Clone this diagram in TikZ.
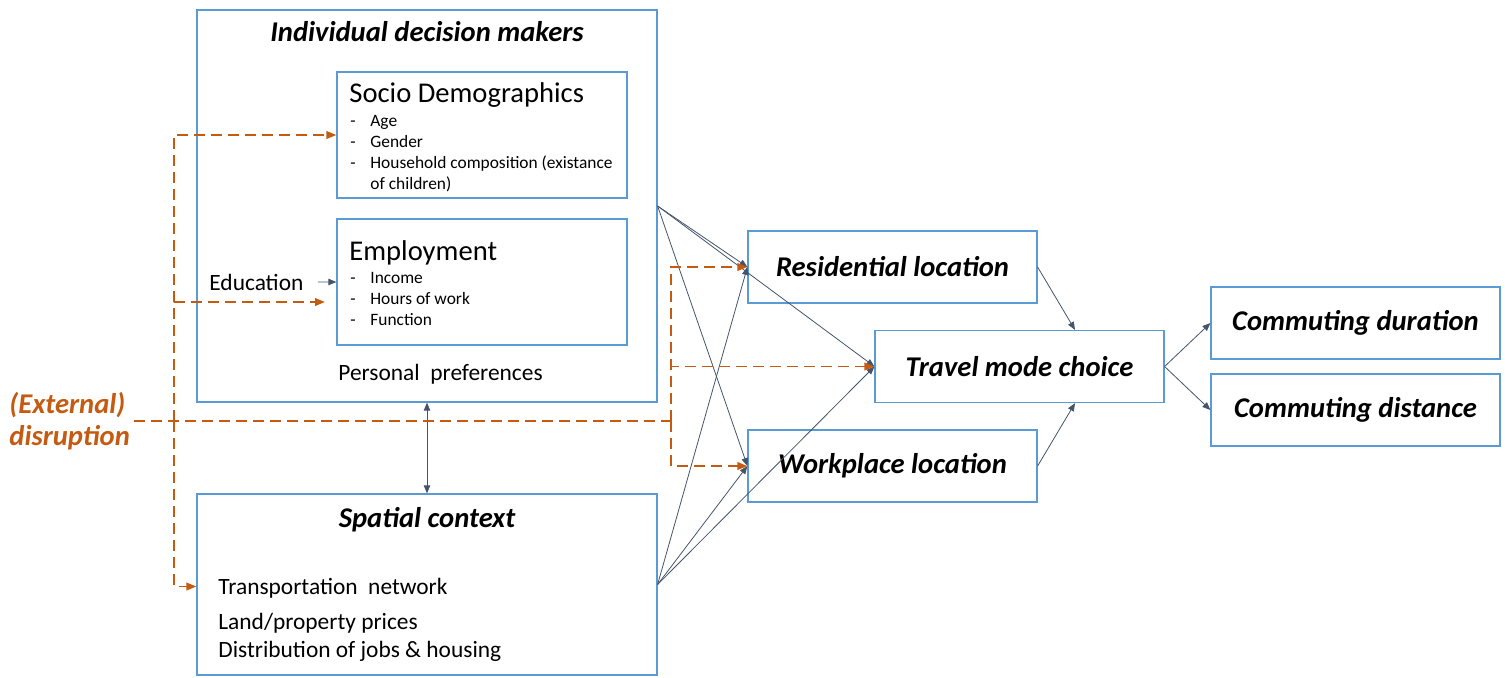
\documentclass[tikz,border=0pt]{standalone}
\usepackage{fontspec}
\setmainfont{Carlito}
\usepackage{tikz}
\usetikzlibrary{arrows.meta, positioning}
\usepackage{xcolor}

\definecolor{boxblue}{RGB}{91,155,213}
\definecolor{extorange}{RGB}{197,90,17}
\definecolor{slate}{RGB}{68,84,106}

\newcommand{\titlefont}{\fontsize{14.3}{16}\selectfont\bfseries\itshape}
\newcommand{\headfont}{\fontsize{14.3}{17}\selectfont}
\newcommand{\itemfont}{\fontsize{8.7}{10.5}\selectfont}
\newcommand{\plainfont}{\fontsize{11.7}{14}\selectfont}
\newcommand{\bul}{\makebox[10pt][l]{-}}

\begin{document}
\begin{tikzpicture}[x=0.5pt, y=-0.5pt,
                    outer_box/.style={rectangle, draw=boxblue, line width=0.6pt, inner sep=0pt},
                    box_node/.style={outer_box, minimum width=144.5pt, minimum height=36pt, font=\titlefont},
                    plain_text/.style={inner sep=0pt, align=left},
                    grey_arrow/.style={draw=slate, line width=0.4pt, -{Triangle[length=4pt, width=3.2pt]}},
                    orange_dash/.style={draw=extorange, line width=0.9pt, dash pattern=on 5.5pt off 3pt},
                    orange_arrow/.style={orange_dash, -{Triangle[length=5pt, width=3.8pt]}}
                ]
    \useasboundingbox (0,0) rectangle (1505,677);

    % left column: people and place
    \node[outer_box, minimum width=230pt, minimum height=196pt] (ind) at (427,206) {};
    \node[outer_box, minimum width=145pt, minimum height=63pt] (socio) at (482,135) {};
    \node[outer_box, minimum width=145pt, minimum height=63pt] (empl) at (482,282) {};
    \node[outer_box, minimum width=230pt, minimum height=90.5pt] (spat) at (427,584.5) {};

    \node[plain_text, anchor=base, font=\titlefont] (ind_title) at (427,41) {Individual decision makers};
    \node[plain_text, anchor=base west, font=\headfont] (socio_head) at (349,102) {Socio Demographics};
    % multi-line texts sit on the baseline of their last line
    \node[plain_text, anchor=base west, font=\itemfont] (socio_list) at (350,189)
        {\bul Age\\ \bul Gender\\ \bul Household composition (existance\\ \hspace*{10pt}of children)};
    \node[plain_text, anchor=base west, font=\headfont] (empl_head) at (349,260) {Employment};
    \node[plain_text, anchor=base west, font=\itemfont] (empl_list) at (350,325)
        {\bul Income\\ \bul Hours of work\\ \bul Function};
    \node[plain_text, anchor=base west, font=\plainfont] (pref) at (338,380) {Personal\ \ preferences};
    \node[plain_text, anchor=base west, font=\plainfont] (edu) at (209,290) {Education};

    \node[plain_text, anchor=base, font=\titlefont] (spat_title) at (427,527) {Spatial context};
    \node[plain_text, anchor=base west, font=\plainfont] (spat_list) at (218,657)
        {Transportation\ \ network\\[3.5pt] Land/property prices\\ Distribution of jobs \& housing};

    % right side: choices and outcomes
    \node[box_node] (res) at (892.5,267) {Residential location};
    \node[box_node] (travel) at (1019.5,366.5) {Travel mode choice};
    \node[box_node] (work) at (892.5,466) {Workplace location};
    \node[box_node] (dur) at (1355.5,323) {Commuting duration};
    \node[box_node] (dist) at (1355.5,410) {Commuting distance};

    \node[plain_text, anchor=west, font=\titlefont, text=extorange, align=left,
          execute at begin node=\setlength{\baselineskip}{16pt}] (ext) at (9,421) {(External)\\disruption};

    % influences
    \draw[grey_arrow] (ind.east) -- (res.west);
    \draw[grey_arrow] (ind.east) -- (travel.west);
    \draw[grey_arrow] (ind.east) -- (work.west);
    \draw[grey_arrow] (spat.east) -- (res.west);
    \draw[grey_arrow] (spat.east) -- (travel.west);
    \draw[grey_arrow] (spat.east) -- (work.west);
    \draw[grey_arrow] (res.east) -- ([xshift=27.75pt]travel.north);
    \draw[grey_arrow] (work.east) -- ([xshift=27.75pt]travel.south);
    \draw[grey_arrow] (travel.east) -- (dur.west);
    \draw[grey_arrow] (travel.east) -- (dist.west);
    \draw[grey_arrow, {Triangle[length=4pt, width=3.2pt]}-{Triangle[length=4pt, width=3.2pt]}] (ind.south) -- (spat.north);
    \draw[grey_arrow] ([xshift=7pt]edu.east) -- (empl.west);

    % disruption paths
    \coordinate (left_trunk) at (174,421);
    \coordinate (right_trunk) at (671,421);
    \coordinate (empl_tip) at (325,302);
    \draw[orange_dash] ([xshift=2pt]ext.east) -- (right_trunk);
    \draw[orange_arrow] (left_trunk) |- (socio.west);
    \draw[orange_arrow] (left_trunk) |- (empl_tip);
    \draw[orange_arrow] (left_trunk) |- ([yshift=-1pt]spat.west);
    \draw[orange_arrow] (right_trunk) |- (res.west);
    \draw[orange_arrow] (right_trunk) |- (travel.west);
    \draw[orange_arrow] (right_trunk) |- (work.west);
\end{tikzpicture}
\end{document}
